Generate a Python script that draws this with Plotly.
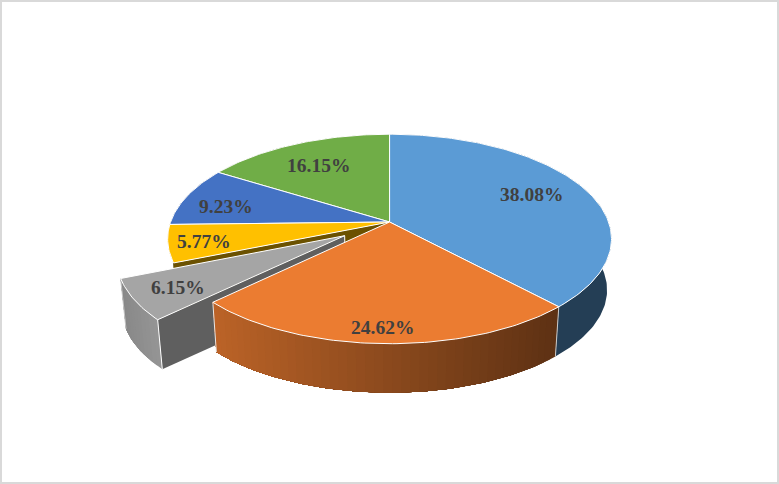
import math
import plotly.graph_objects as go

# ---- data ----
labels = ["38.08%", "24.62%", "6.15%", "5.77%", "9.23%", "16.15%"]
values = [38.08, 24.62, 6.15, 5.77, 9.23, 16.15]
colors = ["#5B9BD5", "#EB7C31", "#A5A5A5", "#FFC000", "#4472C4", "#70AD47"]

# ---- projection of the tilted disc ----
W, H = 779, 484
CX, CY, AX, BY, K = 389.6, 222.0, 219.0, 102.0, 0.162
DEPTH_DY, DEPTH_SCALE = 51.4, 0.98
EXPLODE = {2: 0.24}
LABEL_R = [0.74, 0.885, 0.81, 0.85, 0.81, 0.74]
TEXT_SHIFT_X = [-2.5, -2, 0.5, 1.5, 1.5, 0]
TEXT_SHIFT_Y = [-1, 0, 1, 1, 5, 3]


def hex_rgb(c):
    return tuple(int(c[i:i + 2], 16) for i in (1, 3, 5))


def shade(c, f):
    return "rgb(%d,%d,%d)" % tuple(round(v * f) for v in hex_rgb(c))


def proj(u, v, low=False):
    w = 1 - K * v
    x = CX + AX * u / w
    y = CY + BY * v / w
    if low:
        x = CX + (x - CX) * DEPTH_SCALE
        y = CY + DEPTH_DY + (y - CY) * DEPTH_SCALE
    return x, y


def disc(theta, r=1.0, off=(0.0, 0.0)):
    a = math.radians(theta)
    return off[0] + r * math.sin(a), off[1] - r * math.cos(a)


def arc(t0, t1, step=1.0):
    n = max(2, int(abs(t1 - t0) / step) + 1)
    return [t0 + (t1 - t0) * i / (n - 1) for i in range(n)]


edges = [0.0]
for val in values:
    edges.append(edges[-1] + val / sum(values) * 360)
offs = []
for i in range(len(values)):
    e = EXPLODE.get(i, 0.0)
    mid = (edges[i] + edges[i + 1]) / 2
    offs.append((e * math.sin(math.radians(mid)), -e * math.cos(math.radians(mid))))

fig = go.Figure()


def poly(pts, fill, line=None, lw=0.0):
    fig.add_trace(go.Scatter(
        x=[p[0] for p in pts] + [pts[0][0]],
        y=[p[1] for p in pts] + [pts[0][1]],
        mode="lines", fill="toself", fillcolor=fill,
        line=dict(color=line or fill, width=lw),
        hoverinfo="skip", showlegend=False))


def stroke(pts, color="#FFFFFF", lw=1.0):
    fig.add_trace(go.Scatter(
        x=[p[0] for p in pts], y=[p[1] for p in pts], mode="lines",
        line=dict(color=color, width=lw), hoverinfo="skip", showlegend=False))


def wall(i, f0, f1, step=None):
    """Outer wall of slice i; each strip runs on to the slice end so no seams show."""
    starts = arc(edges[i], edges[i + 1], step)[:-1] if step else [edges[i]]
    xs = [proj(*disc(t, 1.0, offs[i]))[0] for t in arc(edges[i], edges[i + 1])]
    lo, hi = min(xs), max(xs)
    for t0 in starts:
        sub = arc(t0, edges[i + 1])
        xm = proj(*disc(t0, 1.0, offs[i]))[0]
        f = f0 + (f1 - f0) * (xm - lo) / (hi - lo)
        upper = [proj(*disc(t, 1.0, offs[i])) for t in sub]
        lower = [proj(*disc(t, 1.0, offs[i]), True) for t in reversed(sub)]
        poly(upper + lower, shade(colors[i], f))


def cut_face(i, theta, fill):
    o = offs[i]
    rim, apex = disc(theta, 1.0, o), disc(theta, 0.0, o)
    poly([proj(*apex), proj(*rim), proj(*rim, True), proj(*apex, True)], fill)


def top(i):
    pts = [proj(*disc(0, 0.0, offs[i]))]
    pts += [proj(*disc(t, 1.0, offs[i])) for t in arc(edges[i], edges[i + 1])]
    poly(pts, colors[i], "#FFFFFF", 1.0)


# back walls first, front ones later, tops last
wall(5, 0.5, 0.5)
wall(4, 0.5, 0.5)
wall(3, 0.70, 0.70)
cut_face(3, edges[3], shade(colors[3], 0.42))
wall(0, 0.40, 0.40)
wall(2, 0.82, 0.90, 2)
cut_face(2, edges[2], "#5F5F5F")
wall(1, 0.80, 0.40, 2)
rim = disc(edges[1], 1.0)
stroke([proj(*rim), proj(*rim, True)], "#C8C8C8", 1.0)
rim = disc(edges[2], 1.0)
stroke([proj(*rim), proj(*rim, True)], "#E6E6E6", 1.0)
rim = disc(edges[2], 1.0, offs[2])
stroke([proj(*rim), proj(*rim, True)], "#FFFFFF", 1.0)
rim = disc(edges[3], 1.0, offs[2])
stroke([proj(*rim), proj(*rim, True)], "#C8C8C8", 1.0)
apex = disc(0, 0.0, offs[2])
stroke([proj(*apex), proj(*apex, True)], "#FFFFFF", 1.0)
for i in [5, 4, 3, 0, 2, 1]:
    top(i)

# labels
for i, txt in enumerate(labels):
    mid = (edges[i] + edges[i + 1]) / 2
    x, y = proj(*disc(mid, LABEL_R[i], offs[i]))
    fig.add_annotation(x=x + TEXT_SHIFT_X[i], y=y + TEXT_SHIFT_Y[i], text="<b>%s</b>" % txt, showarrow=False,
                       font=dict(family="Liberation Serif", size=19.5, color="#404040"))

fig.add_shape(type="rect", x0=1, y0=1, x1=W - 1, y1=H - 1,
              line=dict(color="#D9D9D9", width=2), fillcolor="rgba(0,0,0,0)", layer="above")
fig.update_layout(
    width=W, height=H, margin=dict(l=0, r=0, t=0, b=0),
    paper_bgcolor="#FFFFFF", plot_bgcolor="#FFFFFF", showlegend=False,
    xaxis=dict(range=[0, W], visible=False, fixedrange=True),
    yaxis=dict(range=[H, 0], visible=False, fixedrange=True),
)
fig.write_html("out.html", config={"displayModeBar": False},
               post_script="document.body.style.margin='0';")
